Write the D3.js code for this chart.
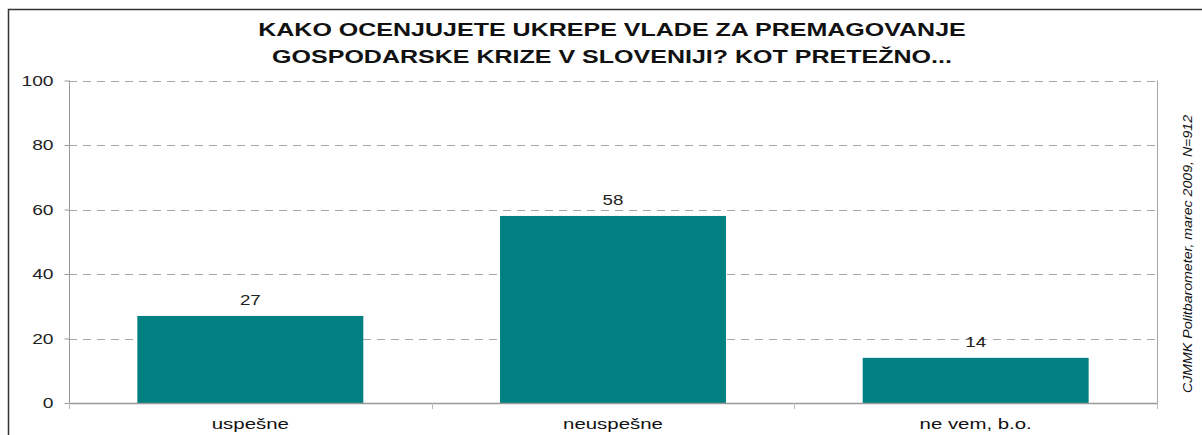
<!DOCTYPE html>
<html><head>
<meta charset="utf-8">
<script src="https://d3js.org/d3.v7.min.js"></script>
<style>
  body { margin: 0; background: white; }
  svg { display: block; font-family: "Liberation Sans", Arial, sans-serif; }
</style>
</head>
<body>
<svg width="1202" height="435"></svg>
<script>
// data
let categories = ["uspešne", "neuspešne", "ne vem, b.o."];
let values = [27, 58, 14];
let yTicks = [0, 20, 40, 60, 80, 100];
let titleLines = ["KAKO OCENJUJETE UKREPE VLADE ZA PREMAGOVANJE",
                  "GOSPODARSKE KRIZE V SLOVENIJI? KOT PRETEŽNO..."];
let source = "CJMMK Politbarometer, marec 2009, N=912";

let svg = d3.select("svg");

// the original image is stretched sideways, so widen text to match
function stretch(sel, k) {
  sel.each(function() {
    let w = this.getComputedTextLength();
    d3.select(this).attr("textLength", w * k).attr("lengthAdjust", "spacingAndGlyphs");
  });
}

// outer frame (runs off right and bottom edges)
svg.append("rect")
  .attr("x", 8.5).attr("y", 9.5)
  .attr("width", 1300).attr("height", 500)
  .style("fill", "none")
  .style("stroke", "#333")
  .style("stroke-width", 1.5);

let pLeft = 69, pRight = 1157, pTop = 80.5, pBottom = 403;

let x = d3.scaleBand()
  .domain(categories)
  .range([pLeft, pRight])
  .paddingInner(0.377)
  .paddingOuter(0.1885);

let y = d3.scaleLinear().domain([0, 100]).range([pBottom, pTop]);

// grid lines
svg.append("g").selectAll("line")
  .data(yTicks.filter(d => d > 0))
  .join("line")
  .attr("x1", pLeft).attr("x2", pRight)
  .attr("y1", d => Math.round(y(d)) + 0.5)
  .attr("y2", d => Math.round(y(d)) + 0.5)
  .style("stroke", "#a6a6a6")
  .style("stroke-dasharray", "8,6");

// right plot border
svg.append("line")
  .attr("x1", pRight + 0.5).attr("x2", pRight + 0.5)
  .attr("y1", pTop).attr("y2", pBottom)
  .style("stroke", "#a6a6a6");

// bars
svg.append("g").selectAll("rect")
  .data(values)
  .join("rect")
  .attr("x", (d, i) => x(categories[i]))
  .attr("width", x.bandwidth())
  .attr("y", d => y(d))
  .attr("height", d => y(0) - y(d))
  .style("fill", "#008080");

// value labels
svg.append("g").selectAll("text")
  .data(values)
  .join("text")
  .attr("x", (d, i) => x(categories[i]) + x.bandwidth() / 2)
  .attr("y", d => y(d) - 11)
  .attr("text-anchor", "middle")
  .style("font-size", "15px")
  .style("fill", "#222")
  .text(d => d)
  .call(stretch, 1.25);

// y axis
let yAxis = svg.append("g")
  .attr("transform", `translate(${pLeft + 0.5},0)`)
  .call(d3.axisLeft(y).tickValues(yTicks).tickSize(5).tickPadding(11));
yAxis.select(".domain").style("stroke", "#999").attr("d", `M0,${pTop}V${pBottom}`);
yAxis.selectAll(".tick line").style("stroke", "#999");
yAxis.selectAll(".tick text")
  .style("font-size", "15px")
  .style("fill", "#222")
  .style("font-family", "'Liberation Sans', Arial, sans-serif")
  .call(stretch, 1.28);

// x axis baseline + boundary ticks
let step = x.step();
let bounds = categories.map((c, i) => pLeft + i * step).concat([pRight]);
svg.append("line")
  .attr("x1", pLeft).attr("x2", pRight + 1)
  .attr("y1", pBottom + 0.5).attr("y2", pBottom + 0.5)
  .style("stroke", "#999")
  .style("stroke-width", 1.5);
svg.append("g").selectAll("line")
  .data(bounds)
  .join("line")
  .attr("x1", d => Math.round(d) + 0.5).attr("x2", d => Math.round(d) + 0.5)
  .attr("y1", pBottom).attr("y2", pBottom + 6)
  .style("stroke", "#bbb");

svg.append("g").selectAll("text")
  .data(categories)
  .join("text")
  .attr("x", d => x(d) + x.bandwidth() / 2)
  .attr("y", 429)
  .attr("text-anchor", "middle")
  .style("font-size", "15px")
  .style("fill", "#111")
  .text(d => d)
  .call(stretch, 1.36);

// title
svg.append("g").selectAll("text")
  .data(titleLines)
  .join("text")
  .attr("x", 612)
  .attr("y", (d, i) => 36 + i * 27)
  .attr("text-anchor", "middle")
  .style("font-size", "18px")
  .style("font-weight", "bold")
  .style("fill", "#111")
  .text(d => d)
  .call(stretch, 1.39);

// source note, rotated
svg.append("text")
  .attr("transform", "translate(1192,254) rotate(-90)")
  .attr("text-anchor", "middle")
  .attr("textLength", 278)
  .attr("lengthAdjust", "spacingAndGlyphs")
  .style("font-size", "13px")
  .style("font-style", "italic")
  .style("fill", "#111")
  .text(source);
</script>
</body>
</html>
